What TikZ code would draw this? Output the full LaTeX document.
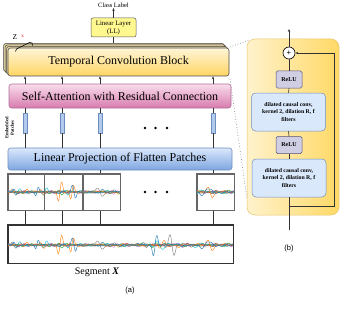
\documentclass[tikz,border=0pt]{standalone}
\usepackage{fontspec}
\setmainfont{Liberation Serif}
\newfontfamily\sansf{Liberation Sans}
\usetikzlibrary{arrows.meta}
\definecolor{c0}{HTML}{1F77B4}
\definecolor{c1}{HTML}{FF7F0E}
\definecolor{c2}{HTML}{2CA02C}
\definecolor{c3}{HTML}{D62728}
\definecolor{c4}{HTML}{9467BD}
\definecolor{c5}{HTML}{8C564B}
\definecolor{c6}{HTML}{E377C2}
\definecolor{c7}{HTML}{7F7F7F}
\definecolor{c8}{HTML}{BCBD22}
\definecolor{c9}{HTML}{17BECF}
\definecolor{tcbtop}{HTML}{FFF5D6}
\definecolor{tcbbot}{HTML}{FFD664}
\definecolor{tcbback}{HTML}{E9D7A2}
\definecolor{satop}{HTML}{F9DDEC}
\definecolor{sabot}{HTML}{D77BAE}
\definecolor{saline}{HTML}{B06F98}
\definecolor{lptop}{HTML}{DAE8FC}
\definecolor{lpbot}{HTML}{7EA6E0}
\definecolor{lpline}{HTML}{6C8EBF}
\definecolor{llfill}{HTML}{FFF88F}
\definecolor{pbl}{HTML}{FFF2CC}
\definecolor{pbr}{HTML}{FFD966}
\definecolor{pbline}{HTML}{E6C56A}
\definecolor{relufill}{HTML}{D0CEE2}
\definecolor{reluline}{HTML}{56517E}
\pgfmathdeclarefunction{bu}{5}{\pgfmathparse{#5*exp(-min(((#1-#2)/#3)^2,20))*sin((#1-#2)*#4)}}
\pgfmathdeclarefunction{nz}{2}{\pgfmathparse{0.6*sin(#1*53+#2)+0.5*sin(#1*29+1.7*#2)+0.4*sin(#1*11+2.3*#2)}}
\newcommand\tr[2]{\draw[#1,trline] plot[domain=\da:\db,samples=\ns] (\x,{\yc-(#2)});}
\newcommand\alltr[4]{%
 \def\da{#1}\def\db{#2}\def\yc{#3}\def\ns{#4}%
 \tr{c8}{0.9*nz(\x,20)+bu(\x,120,4,40,2)}
 \tr{c6}{0.9*nz(\x,330)+bu(\x,115,3,40,2)+bu(\x,200,4,35,2)}
 \tr{c5}{0.9*nz(\x,290)+bu(\x,58,3,40,2.5)+bu(\x,190,4,35,-2)}
 \tr{c4}{1.1*nz(\x,250)+bu(\x,180,5,30,-3)+bu(\x,30,3,45,2)+bu(\x,140,4,40,2)}
 \tr{c3}{1.0*nz(\x,210)+bu(\x,68,3,40,3)+bu(\x,215,3,40,2.5)+bu(\x,20,3,45,2)}
 \tr{c2}{1.2*nz(\x,170)+bu(\x,155,4,40,3)+bu(\x,60,3,40,-3)+bu(\x,225,4,40,2)}
 \tr{c9}{1.1*nz(\x,130)+bu(\x,45,4,40,3.5)+bu(\x,66,4,40,-4.5)+bu(\x,160,6,30,-5)+bu(\x,198,5,30,4)+bu(\x,18,4,40,2.5)}
 \tr{c7}{1.0*nz(\x,90)+bu(\x,100,4,30,-6)+bu(\x,172,4.5,35,-13)+bu(\x,145,3,40,-4)+bu(\x,14,3,40,-4)+bu(\x,112,4,35,3)}
 \tr{c1}{1.1*nz(\x,50)+bu(\x,60,3.5,45,11)+bu(\x,72,3,50,9)+bu(\x,42,3,50,-3)+bu(\x,162,6,35,4)+bu(\x,210,4,30,-9)+bu(\x,180,3,40,3)+bu(\x,25,3,45,2.5)}
 \tr{c0}{1.2*nz(\x,10)+bu(\x,37,3,55,6)+bu(\x,74,3.5,45,-10)+bu(\x,155,3.5,40,14)+bu(\x,205,8,22,5)+bu(\x,100,5,40,1.5)+bu(\x,15,3,45,-3)}
}
\tikzset{
 trline/.style={line width=0.5pt,opacity=0.9,line join=round},
 conn/.style={draw=black!80,line width=0.6pt},
 arr/.style={conn,-{Stealth[length=3pt,width=2.4pt]}},
 bigbox/.style={rounded corners=2.5pt,line width=0.6pt,minimum height=#1,inner sep=0pt,font=\fontsize{12}{13}\selectfont},
 tcbstyle/.style={bigbox=28pt,minimum width=221pt,draw=black!70,top color=tcbtop,bottom color=tcbbot},
 tcbbackstyle/.style={rounded corners=2.5pt,line width=0.5pt,minimum width=221pt,minimum height=28pt,draw=black!75,fill=tcbback,inner sep=0pt},
 epatch/.style={draw=lpline,fill=lpbot!60,line width=0.4pt,minimum width=4.5pt,minimum height=20pt,inner sep=0pt},
 patchbox/.style={draw=black!60,line width=0.8pt,inner sep=0pt,minimum height=36pt},
 segbox/.style={draw=black!80,line width=1pt},
 relubox/.style={draw=reluline,fill=relufill,rounded corners=1.5pt,line width=0.5pt,minimum width=26pt,minimum height=17pt,inner sep=0pt,font=\bfseries\fontsize{6}{7}\selectfont},
 convbox/.style={draw=lpline,fill=lptop,rounded corners=4pt,line width=0.5pt,minimum width=74pt,minimum height=38pt,inner sep=0pt,align=center,font=\bfseries\fontsize{5.8}{7.4}\selectfont},
 dotline/.style={draw=black!45,line width=0.7pt,dotted},
 dotc/.style={circle,fill=black,inner sep=0pt,minimum size=2.6pt}
}
\begin{document}
\begin{tikzpicture}[x=1pt,y=-1pt]
\useasboundingbox (0,0) rectangle (340,313);
% panel (b)
\node[draw=pbline,left color=pbl,right color=pbr,rounded corners=8pt,line width=0.5pt,minimum width=92pt,minimum height=176pt,inner sep=0pt] (pb) at (293,127) {};
% dotted zoom lines
\coordinate (z1) at (230,47);
\coordinate (z2) at (249,40);
\coordinate (z3) at (230,79);
\coordinate (z4) at (247,199);
\draw[dotline] (z1) -- (z2);
\draw[dotline] (z3) -- (z4);
% TCB stack
\node[tcbbackstyle] (tcb3) at (114,57.5) {};
\node[tcbbackstyle] (tcb2) at (115.5,59) {};
\node[tcbbackstyle] (tcb1) at (117,60.5) {};
\node[tcbstyle] (tcb) at (118.5,62) {Temporal Convolution Block};
% Z marker
\node[font=\fontsize{7.5}{8}\selectfont,inner sep=0pt] (zl) at (15,37) {Z};
\node[font=\fontsize{5}{5}\selectfont,text=red,inner sep=0pt] (zx) at (22.5,36) {x};
\draw[line width=0.6pt] (15.5,51.5) -- (16.5,49) -- (29.5,42.5) -- (32,43) -- (32.5,45.5);
% Linear layer
\node[draw=black!65,fill=llfill,rounded corners=2pt,line width=0.5pt,minimum width=45pt,minimum height=19pt,inner sep=0pt,align=center,font=\fontsize{6.8}{8}\selectfont] (ll) at (113.5,27.5) {Linear Layer\\(LL)};
\node[font=\fontsize{6.5}{7}\selectfont,inner sep=0.5pt] (cl) at (113.5,5) {Class Label};
\draw[arr] (ll.north) -- (cl.south);
\draw[conn] (ll.south) -- (ll.south |- tcb3.north);
% SA
\node[bigbox=24pt,minimum width=222pt,draw=saline,top color=satop,bottom color=sabot] (sa) at (120,96) {Self-Attention with Residual Connection};
% LP
\node[bigbox=22pt,minimum width=224pt,draw=lpline,top color=lptop,bottom color=lpbot] (lp) at (120,159) {Linear Projection of Flatten Patches};
% embedded patches
\foreach \i/\xx in {1/25,2/62,3/100,4/213}{
 \node[epatch] (ep\i) at (\xx,123) {};
 \draw[arr] (sa.north -| ep\i) -- (tcb.south -| ep\i);
 \draw[conn] (sa.south -| ep\i) -- (ep\i.north);
 \draw[conn] (ep\i.south) -- (lp.north -| ep\i);
}
\node[rotate=90,align=center,font=\bfseries\fontsize{4.6}{5.6}\selectfont,inner sep=0pt] (eplabel) at (9.5,128) {Embedded\\Patches};
\foreach \i/\xx in {1/145,2/155.5,3/167}{
 \node[dotc] (da\i) at (\xx,128) {};
 \node[dotc] (db\i) at (\xx,192) {};
}
% patches
\node[patchbox,minimum width=36pt] (p1) at (26,192) {};
\node[patchbox,minimum width=37.5pt] (p2) at (63.25,192) {};
\node[patchbox,minimum width=37pt] (p3) at (101.5,192) {};
\node[patchbox,minimum width=37pt] (p4) at (215.5,192) {};
\begin{scope}\clip (8,174) rectangle (44,210); \alltr{8}{44}{192}{48}\end{scope}
\begin{scope}\clip (44.5,174) rectangle (82,210); \alltr{44.5}{82}{192}{50}\end{scope}
\begin{scope}\clip (83,174) rectangle (120,210); \alltr{83}{120}{192}{50}\end{scope}
\begin{scope}\clip (197,174) rectangle (234,210); \alltr{197}{234}{192}{50}\end{scope}
% segment
\node[segbox,minimum width=225pt,minimum height=38pt,inner sep=0pt] (seg) at (120.5,244) {};
\begin{scope}\clip (8,225) rectangle (233,263); \alltr{8}{233}{245}{300}\end{scope}
\foreach \i in {1,2,3,4}{
 \draw[conn] (lp.south -| ep\i) -- (p\i.north -| ep\i);
 \draw[conn] (p\i.south -| ep\i) -- (seg.north -| ep\i);
 \draw[patchbox] (p\i.south west) rectangle (p\i.north east);
}
\draw[segbox] (seg.south west) rectangle (seg.north east);
\node[font=\fontsize{10}{11}\selectfont,inner sep=0pt] (segl) at (97,272) {Segment \textbf{\textit{X}}};
\node[font=\sansf\fontsize{7.5}{8}\selectfont,inner sep=0pt] (la) at (130,291) {(a)};
% panel b contents
\node[circle,draw=black,fill=white,line width=0.6pt,minimum size=12pt,inner sep=0pt,font=\bfseries\fontsize{8}{8}\selectfont] (plus) at (289,53) {+};
\node[relubox] (r1) at (289,79.5) {ReLU};
\node[convbox] (cv1) at (288.5,112) {dilated causal conv,\\kernel 2, dilation R, f\\filters};
\node[relubox] (r2) at (289,145) {ReLU};
\node[convbox] (cv2) at (289,178) {dilated causal conv,\\kernel 2, dilation R, f\\filters};
\coordinate (bin) at (289,230);
\coordinate (bout) at (289,29);
\coordinate (rs1) at (289,206);
\coordinate (rs2) at (334,206);
\coordinate (rs3) at (334,53);
\draw[conn] (bin) -- (cv2.south);
\draw[conn] (cv2.north) -- (r2.south);
\draw[conn] (r2.north) -- (cv1.south);
\draw[conn] (cv1.north) -- (r1.south);
\draw[conn] (r1.north) -- (plus.south);
\draw[arr] (plus.north) -- (bout);
\draw[arr] (rs1) -- (rs2) -- (rs3) -- (plus.east);
\node[font=\sansf\fontsize{7.5}{8}\selectfont,inner sep=0pt] (lb) at (289,249) {(b)};
\end{tikzpicture}
\end{document}
